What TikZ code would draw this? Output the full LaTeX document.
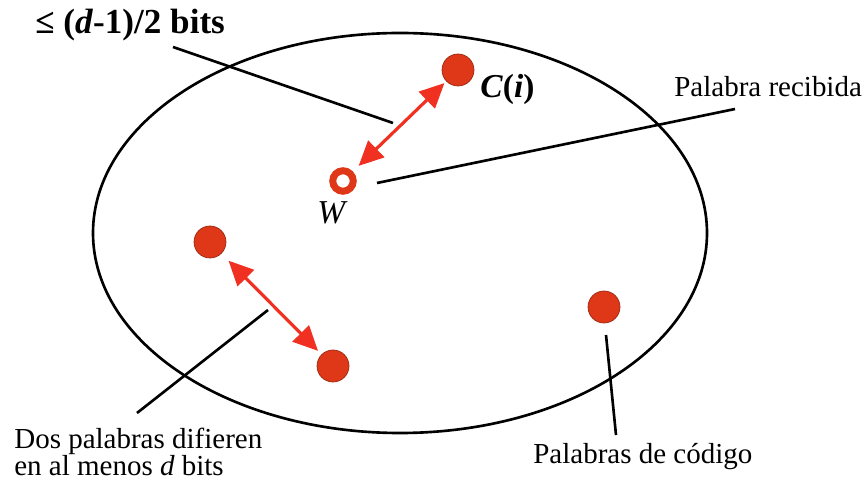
\documentclass[tikz,border=0pt]{standalone}
\usepackage{fontspec}
\setmainfont{LiberationSerif}[Extension=.ttf, UprightFont=*-Regular,
  BoldFont=*-Bold, ItalicFont=*-Italic, BoldItalicFont=*-BoldItalic]
\usetikzlibrary{arrows.meta}
\definecolor{dotred}{RGB}{222,56,24}
\definecolor{arrowred}{RGB}{240,48,32}
\begin{document}
\begin{tikzpicture}[x=0.02cm, y=-0.02cm,
    word/.style={circle, fill=dotred, draw=dotred!70!black, line width=0.4pt,
      minimum size=0.64cm, inner sep=0pt},
    recv/.style={circle, draw=dotred, line width=0.14cm, fill=white,
      minimum size=0.41cm, inner sep=0pt},
    dist/.style={{Triangle[length=14pt,width=13pt]}-{Triangle[length=14pt,width=13pt]},
      arrowred, line width=1.8pt},
    lead/.style={black, line width=1.5pt},
    txt/.style={inner sep=0pt, font=\fontsize{16.5}{15.3}\selectfont}]

  \useasboundingbox (0,0) rectangle (865,482);

  % conjunto de palabras
  \draw[line width=1.5pt] (400,233) ellipse [x radius=307, y radius=200];

  \node[word] (ci) at (458,70)  {};
  \node[recv] (w)  at (343,181) {};
  \node[word] (a)  at (210,242) {};
  \node[word] (b)  at (333,366) {};
  \node[word] (c)  at (604,307) {};

  \draw[dist, shorten <=0.16cm, shorten >=0.05cm] (w) -- (ci);
  \draw[dist, shorten <=0.2cm, shorten >=0.1cm] (a) -- (b);

  % etiquetas
  \node[inner sep=0pt, anchor=base west, font=\fontsize{20}{24}\selectfont\bfseries]
    (radio) at (35,34) {≤ (\textit{d}-1)/2 bits};
  \node[inner sep=0pt, anchor=base west, font=\fontsize{19}{22}\selectfont\bfseries]
    (lci) at (480,98) {\textit{C}(\textit{i})};
  \node[inner sep=0pt, anchor=base west, font=\fontsize{19}{22}\selectfont\itshape]
    (lw) at (317,224) {W};
  \node[txt, anchor=base west] (recibida) at (674,97) {Palabra recibida};
  \node[txt, anchor=north west, align=left] (dos) at (14,428)
    {Dos palabras difieren\\en al menos \textit{d} bits};
  \node[txt, anchor=base west] (codigo) at (533,463) {Palabras de código};

  % lineas de referencia
  \coordinate (r1) at (173,47);  \coordinate (r2) at (393,123);
  \coordinate (p1) at (377,183); \coordinate (p2) at (735,109);
  \coordinate (d1) at (268,310); \coordinate (d2) at (137,413);
  \coordinate (c1) at (606,335); \coordinate (c2) at (616,435);

  \draw[lead] (r1) -- (r2);
  \draw[lead] (p1) -- (p2);
  \draw[lead] (d1) -- (d2);
  \draw[lead] (c1) -- (c2);
\end{tikzpicture}
\end{document}
